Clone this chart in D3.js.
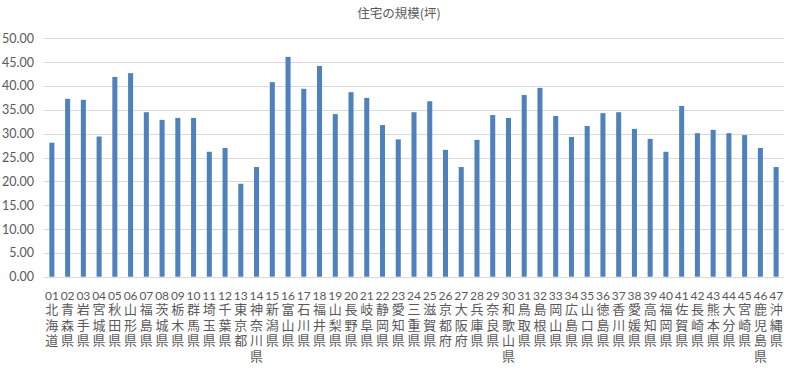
<!DOCTYPE html>
<html><head><meta charset="utf-8">
<script src="https://cdn.jsdelivr.net/npm/d3@7"></script>
<style>body{margin:0;background:#fff}svg{display:block}</style>
</head><body>
<script>
const codes = ["01","02","03","04","05","06","07","08","09","10","11","12","13","14","15","16","17","18","19","20","21","22","23","24","25","26","27","28","29","30","31","32","33","34","35","36","37","38","39","40","41","42","43","44","45","46","47"];
const prefectures = ["北海道","青森県","岩手県","宮城県","秋田県","山形県","福島県","茨城県","栃木県","群馬県","埼玉県","千葉県","東京都","神奈川県","新潟県","富山県","石川県","福井県","山梨県","長野県","岐阜県","静岡県","愛知県","三重県","滋賀県","京都府","大阪府","兵庫県","奈良県","和歌山県","鳥取県","島根県","岡山県","広島県","山口県","徳島県","香川県","愛媛県","高知県","福岡県","佐賀県","長崎県","熊本県","大分県","宮崎県","鹿児島県","沖縄県"];
const values = [28.1,37.3,37.1,29.4,41.9,42.7,34.5,32.9,33.3,33.3,26.2,27.0,19.5,23.0,40.8,46.1,39.4,44.2,34.1,38.7,37.5,31.8,28.8,34.5,36.8,26.6,23.0,28.7,33.9,33.3,38.1,39.6,33.7,29.3,31.6,34.3,34.5,31.0,28.9,26.2,35.8,30.1,30.8,30.1,29.7,27.0,23.0];
const yTicks = [0,5,10,15,20,25,30,35,40,45,50];
const title = "住宅の規模(坪)";

const W = 796, H = 372;
const svg = d3.select("body").append("svg").attr("width", W).attr("height", H);
const x = d3.scaleBand().domain(codes).range([44, 784]).paddingInner(0.68).paddingOuter(0.34);
const y = d3.scaleLinear().domain([0, 50]).range([276.7, 38.3]);
const txt = "#595959";

svg.append("text").attr("x", 399).attr("y", 18).attr("text-anchor", "middle")
  .attr("font-family", "'Noto Sans CJK JP'").attr("font-size", 12.5).attr("fill", txt).text(title);

const yAxis = svg.append("g").attr("transform", "translate(44,0)")
  .call(d3.axisLeft(y).tickValues(yTicks).tickSize(-740).tickFormat(d3.format(".2f")).tickPadding(10));
yAxis.select(".domain").remove();
yAxis.selectAll(".tick line").attr("stroke", "#d9d9d9").attr("shape-rendering", "crispEdges");
yAxis.selectAll(".tick text").attr("font-family", "Lato, 'Liberation Sans'").attr("font-size", 12.5).attr("fill", txt);

svg.append("g").selectAll("rect").data(values).join("rect")
  .attr("x", (d, i) => x(codes[i])).attr("width", x.bandwidth())
  .attr("y", d => y(d)).attr("height", d => y(0) - y(d)).attr("fill", "#4f81bd");

const xAxis = svg.append("g").attr("transform", `translate(0,${y(0)})`)
  .call(d3.axisBottom(x).tickSize(0).tickPadding(15));
xAxis.select(".domain").remove();
xAxis.selectAll(".tick text").attr("font-family", "Lato, 'Liberation Sans'").attr("font-size", 12).attr("fill", txt);

svg.append("g").selectAll("text").data(prefectures).join("text")
  .attr("x", (d, i) => x(codes[i]) + x.bandwidth() / 2).attr("y", 302.5)
  .style("writing-mode", "vertical-rl").style("letter-spacing", "2.6px")
  .attr("font-family", "'Noto Sans CJK JP'").attr("font-size", 13).attr("fill", txt)
  .text(d => d);
</script>
</body></html>
